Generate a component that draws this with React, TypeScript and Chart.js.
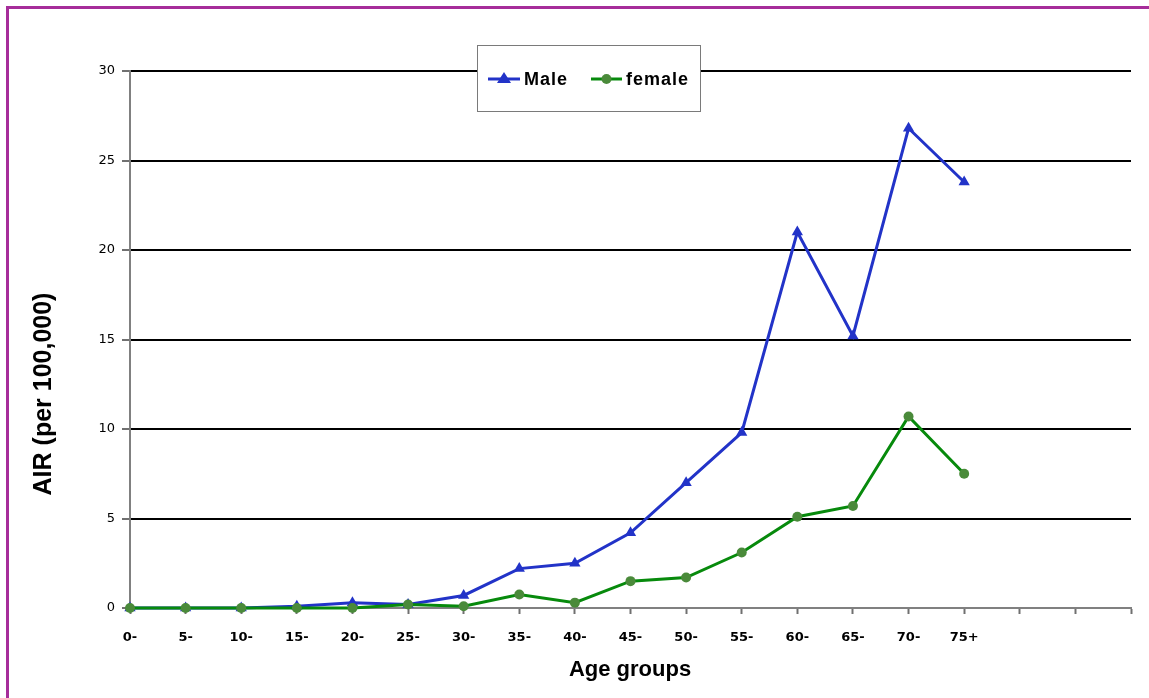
import React, { useEffect, useRef } from "react";
import { Chart, registerables } from "chart.js";

Chart.register(...registerables);

const ageGroups = ["0-", "5-", "10-", "15-", "20-", "25-", "30-", "35-", "40-", "45-", "50-", "55-", "60-", "65-", "70-", "75+", "", "", ""];
const maleValues = [0, 0, 0, 0.1, 0.3, 0.2, 0.7, 2.2, 2.5, 4.2, 7.0, 9.8, 21.0, 15.2, 26.8, 23.8];
const femaleValues = [0, 0, 0, 0, 0, 0.2, 0.1, 0.75, 0.3, 1.5, 1.7, 3.1, 5.1, 5.7, 10.7, 7.5];
const yTicks = [0, 5, 10, 15, 20, 25, 30];

const MALE_COLOR = "#2233c8";
const FEMALE_LINE = "#078a0c";
const FEMALE_POINT = "#4a8a3a";

const overlayPlugin = {
  id: "overlay",
  afterDraw(chart: any) {
    const ctx = chart.ctx as CanvasRenderingContext2D;
    ctx.save();
    // axis titles
    ctx.fillStyle = "#000";
    ctx.font = "bold 22px 'Liberation Sans', Arial, sans-serif";
    ctx.textAlign = "center";
    ctx.textBaseline = "middle";
    ctx.fillText("Age groups", 622, 662);
    ctx.save();
    ctx.translate(36, 386);
    ctx.rotate(-Math.PI / 2);
    ctx.font = "bold 25px 'Liberation Sans', Arial, sans-serif";
    ctx.fillText("AIR (per 100,000)", 0, 0);
    ctx.restore();

    // legend box
    const bx = 469.5, by = 37.5, bw = 223, bh = 66;
    ctx.fillStyle = "#fff";
    ctx.fillRect(bx, by, bw, bh);
    ctx.strokeStyle = "#7a7a7a";
    ctx.lineWidth = 1;
    ctx.strokeRect(bx, by, bw, bh);
    const ly = 71;
    ctx.font = "bold 18px 'Liberation Sans', Arial, sans-serif";
    (ctx as any).letterSpacing = "1px";
    ctx.textAlign = "left";
    ctx.textBaseline = "middle";
    // male
    ctx.strokeStyle = MALE_COLOR;
    ctx.lineWidth = 3;
    ctx.beginPath();
    ctx.moveTo(480, ly);
    ctx.lineTo(512, ly);
    ctx.stroke();
    ctx.fillStyle = MALE_COLOR;
    ctx.beginPath();
    ctx.moveTo(496, ly - 7);
    ctx.lineTo(503, ly + 4);
    ctx.lineTo(489, ly + 4);
    ctx.closePath();
    ctx.fill();
    ctx.fillStyle = "#000";
    ctx.fillText(chart.data.datasets[0].label, 516, ly + 1);
    // female
    ctx.strokeStyle = FEMALE_LINE;
    ctx.beginPath();
    ctx.moveTo(583, ly);
    ctx.lineTo(614, ly);
    ctx.stroke();
    ctx.fillStyle = FEMALE_POINT;
    ctx.beginPath();
    ctx.arc(598.5, ly, 5, 0, Math.PI * 2);
    ctx.fill();
    ctx.fillStyle = "#000";
    ctx.fillText(chart.data.datasets[1].label, 618, ly + 1);
    ctx.restore();
  },
};

export default function App() {
  const ref = useRef<HTMLCanvasElement | null>(null);
  useEffect(() => {
    if (!ref.current) return;
    const chart = new Chart(ref.current, {
      type: "line",
      data: {
        labels: ageGroups,
        datasets: [
          {
            label: "Male",
            data: maleValues,
            order: 1,
            clip: false,
            borderColor: MALE_COLOR,
            backgroundColor: MALE_COLOR,
            borderWidth: 3,
            pointStyle: "triangle",
            pointRadius: 6.5,
            pointBorderWidth: 0,
            pointBackgroundColor: MALE_COLOR,
            tension: 0,
          },
          {
            label: "female",
            data: femaleValues,
            order: 0,
            clip: false,
            borderColor: FEMALE_LINE,
            backgroundColor: FEMALE_POINT,
            borderWidth: 3,
            pointStyle: "circle",
            pointRadius: 5,
            pointBorderWidth: 0,
            pointBackgroundColor: FEMALE_POINT,
            tension: 0,
          },
        ],
      },
      options: {
        responsive: false,
        animation: false,
        layout: { padding: { top: 63, right: 18, left: 0, bottom: 0 } },
        plugins: { legend: { display: false }, tooltip: { enabled: false } },
        scales: {
          x: {
            type: "category",
            offset: false,
            afterFit: (s: any) => { s.height = 90; },
            grid: {
              display: true,
              drawOnChartArea: false,
              drawTicks: true,
              tickLength: 6,
              tickColor: "#707070",
              tickWidth: 2,
            },
            border: { display: true, color: "#808080", width: 2 },
            ticks: {
              autoSkip: false,
              maxRotation: 0,
              minRotation: 0,
              padding: 16,
              color: "#000",
              font: { family: "'DejaVu Sans', Verdana, sans-serif", size: 13, weight: "bold" },
            },
          },
          y: {
            min: 0,
            max: 30,
            afterFit: (s: any) => { s.width = 122; },
            afterBuildTicks: (s: any) => { s.ticks = yTicks.map((v) => ({ value: v })); },
            grid: {
              color: (c: any) => (c.tick && c.tick.value === 0 ? "rgba(0,0,0,0)" : "#000"),
              lineWidth: 2,
              drawTicks: true,
              tickLength: 8,
              tickColor: "#707070",
              tickWidth: 2,
            },
            border: { display: true, color: "#808080", width: 2 },
            ticks: {
              stepSize: 5,
              padding: 7,
              color: "#000",
              font: { family: "'DejaVu Sans', Verdana, sans-serif", size: 13 },
            },
          },
        },
      },
      plugins: [overlayPlugin],
    } as any);
    return () => chart.destroy();
  }, []);

  return (
    <div>
      <div
        style={{
          position: "fixed",
          left: 6,
          top: 6,
          width: 1220,
          height: 780,
          border: "3px solid #a62d9a",
          boxSizing: "border-box",
          background: "#fff",
        }}
      />
      <canvas
        ref={ref}
        width={1141}
        height={690}
        style={{ position: "fixed", left: 8, top: 8, width: 1141, height: 690 }}
      />
    </div>
  );
}
